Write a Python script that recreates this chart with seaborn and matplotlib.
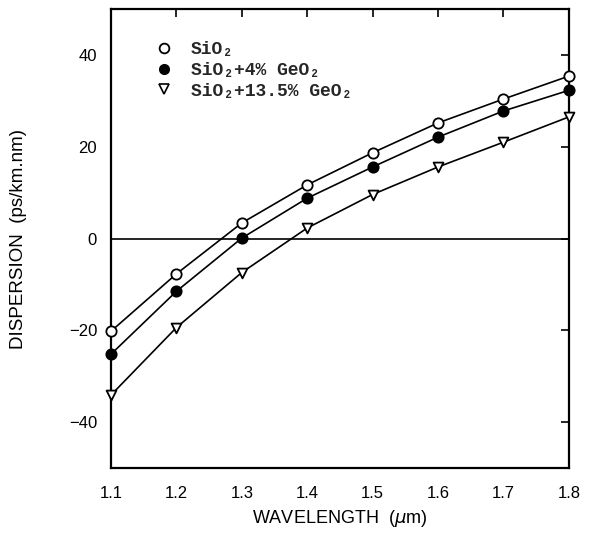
import matplotlib
matplotlib.use("Agg")
import matplotlib.pyplot as plt
from matplotlib.lines import Line2D
import numpy as np
import pandas as pd
import seaborn as sns

# Wavelength (um) and chromatic dispersion (ps/km.nm) for three glass compositions
wavelength = [1.1, 1.2, 1.3, 1.4, 1.5, 1.6, 1.7, 1.8]
sio2 = [-20.2, -7.7, 3.4, 11.7, 18.7, 25.2, 30.4, 35.4]
sio2_4ge = [-25.2, -11.5, 0.1, 8.8, 15.6, 22.1, 27.8, 32.3]
sio2_135ge = [-34.1, -19.4, -7.4, 2.3, 9.6, 15.6, 21.0, 26.5]

labels = ["SiO\u2082", "SiO\u2082+4% GeO\u2082", "SiO\u2082+13.5% GeO\u2082"]
xticks = [1.1, 1.2, 1.3, 1.4, 1.5, 1.6, 1.7, 1.8]
yticks = [-40, -20, 0, 20, 40]

df = pd.DataFrame({
    "wavelength": wavelength * 3,
    "dispersion": sio2 + sio2_4ge + sio2_135ge,
    "glass": [labels[0]] * 8 + [labels[1]] * 8 + [labels[2]] * 8,
})

sns.set_theme(style="white")
plt.rcParams["font.family"] = ["Liberation Sans", "DejaVu Sans"]

fig = plt.figure(figsize=(6.0, 5.37), dpi=100)
ax = fig.add_axes([0.185, 0.1285, 0.763, 0.8545])

# curves through the measured points
for lab in labels:
    sub = df[df.glass == lab]
    sns.lineplot(data=sub, x="wavelength", y="dispersion", color="black",
                 linewidth=1.2, ax=ax, legend=False, zorder=2)

styles = {
    labels[0]: dict(marker="o", facecolor="white", s=55),
    labels[1]: dict(marker="o", facecolor="black", s=55),
    labels[2]: dict(marker="v", facecolor="white", s=50),
}
for lab in labels:
    sub = df[df.glass == lab]
    st = styles[lab]
    sns.scatterplot(data=sub, x="wavelength", y="dispersion", marker=st["marker"],
                    s=st["s"], facecolor=st["facecolor"], edgecolor="black",
                    linewidth=1.3, ax=ax, legend=False, zorder=3, clip_on=False)

ax.axhline(0, color="black", linewidth=1.2, zorder=1)

ax.set_xlim(1.1, 1.8)
ax.set_ylim(-50, 50)
ax.set_xticks(xticks)
ax.set_xticklabels([f"{v:.1f}" for v in xticks])
ax.set_yticks(yticks)
ax.set_yticklabels([f"\u2212{-v}" if v < 0 else str(v) for v in yticks])
ax.tick_params(direction="in", length=6, width=1.2, top=True, right=True,
               labelsize=12, colors="black", pad=10)
ax.tick_params(axis="x", pad=13)
for sp in ax.spines.values():
    sp.set_color("black")
    sp.set_linewidth(1.6)

ax.set_xlabel(r"WAVELENGTH  ($\mu$m)", fontsize=13, color="black", labelpad=5)
ax.set_ylabel("DISPERSION  (ps/km.nm)", fontsize=13.5, color="black", labelpad=30)

handles = [
    Line2D([], [], linestyle="none", marker="o", markersize=7,
           markerfacecolor="white", markeredgecolor="black", markeredgewidth=1.3),
    Line2D([], [], linestyle="none", marker="o", markersize=7,
           markerfacecolor="black", markeredgecolor="black"),
    Line2D([], [], linestyle="none", marker="v", markersize=7,
           markerfacecolor="white", markeredgecolor="black", markeredgewidth=1.2),
]
ax.legend(handles, labels, loc="upper left", bbox_to_anchor=(0.06, 0.965),
          frameon=False, handlelength=1.0, handletextpad=1.0, labelspacing=0.2,
          prop={"family": ["Liberation Mono", "DejaVu Sans Mono"], "size": 13,
                "weight": "bold"})

fig.savefig("out.png", dpi=100, facecolor="white")
